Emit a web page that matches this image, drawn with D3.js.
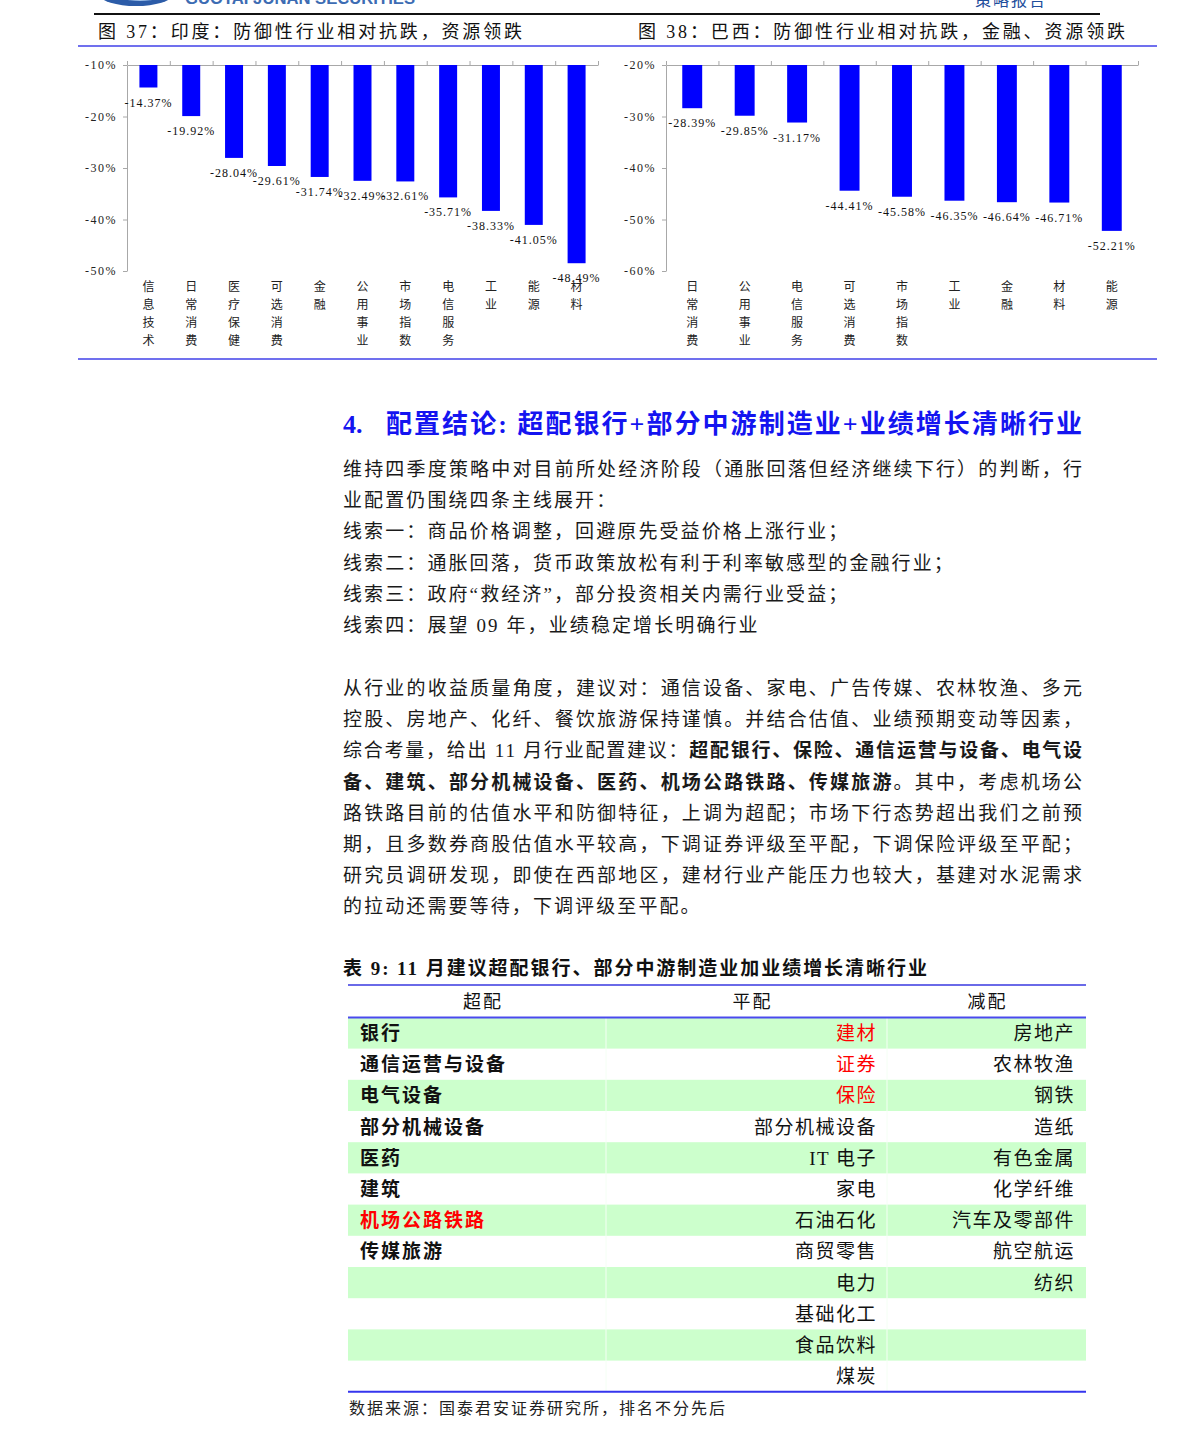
<!DOCTYPE html>
<html>
<head>
<meta charset="utf-8">
<script src="https://cdn.jsdelivr.net/npm/d3@7"></script>
<style>
  body { margin: 0; background: #fff; }
</style>
</head>
<body>
<div id="page"></div>
<script>
// India chart (图 37)
const indiaCats = ['信息技术', '日常消费', '医疗保健', '可选消费', '金融', '公用事业', '市场指数', '电信服务', '工业', '能源', '材料'];
const indiaVals = [-14.37, -19.92, -28.04, -29.61, -31.74, -32.49, -32.61, -35.71, -38.33, -41.05, -48.49];
const indiaTicks = [-10, -20, -30, -40, -50];

// Brazil chart (图 38)
const brazilCats = ['日常消费', '公用事业', '电信服务', '可选消费', '市场指数', '工业', '金融', '材料', '能源'];
const brazilVals = [-28.39, -29.85, -31.17, -44.41, -45.58, -46.35, -46.64, -46.71, -52.21];
const brazilTicks = [-20, -30, -40, -50, -60];

// table 9
const overweight = ['银行', '通信运营与设备', '电气设备', '部分机械设备', '医药', '建筑', '机场公路铁路', '传媒旅游'];
const neutral = ['建材', '证券', '保险', '部分机械设备', 'IT 电子', '家电', '石油石化', '商贸零售', '电力', '基础化工', '食品饮料', '煤炭'];
const underweight = ['房地产', '农林牧渔', '钢铁', '造纸', '有色金属', '化学纤维', '汽车及零部件', '航空航运', '纺织'];
const redItems = ['建材', '证券', '保险', '机场公路铁路'];

const FONT = '"Liberation Serif", "Noto Sans CJK SC", serif';
const CJK = '"Noto Sans CJK SC", sans-serif';

const svg = d3.select('#page').append('svg')
  .attr('width', 1190)
  .attr('height', 1439)
  .style('display', 'block');

// ---- page header (cut off at top) ----
svg.append('ellipse').attr('cx', 136).attr('cy', -5).attr('rx', 36).attr('ry', 11).attr('fill', '#2c5ca8');
svg.append('ellipse').attr('cx', 140).attr('cy', -8).attr('rx', 26).attr('ry', 9).attr('fill', '#9fc0e8');
svg.append('text').attr('x', 185).attr('y', 4).attr('font-family', 'Liberation Sans').attr('font-weight', 'bold')
  .attr('font-size', 17).attr('fill', '#3d6cb3').attr('textLength', 230).attr('lengthAdjust', 'spacingAndGlyphs')
  .text('GUOTAI JUNAN SECURITIES');
svg.append('text').attr('x', 975).attr('y', 6).attr('font-family', CJK).attr('font-size', 16)
  .attr('fill', '#1f4e9c').attr('textLength', 70).text('策略报告');
svg.append('line').attr('x1', 94).attr('x2', 1100).attr('y1', 14).attr('y2', 14).attr('stroke', '#111').attr('stroke-width', 2);

// one line of text, optionally justified with textLength
function textLine(x, y, segs, o) {
  const t = svg.append('text').attr('x', x).attr('y', y)
    .attr('font-family', o.family || FONT).attr('font-size', o.size)
    .attr('fill', o.fill || '#111').attr('text-anchor', o.anchor || 'start');
  if (o.weight) t.attr('font-weight', o.weight);
  if (o.len) t.attr('textLength', o.len).attr('lengthAdjust', 'spacing');
  else if (o.ls) t.attr('letter-spacing', o.ls);
  segs.forEach(s => {
    const sp = t.append('tspan').text(s[0]);
    if (s[1]) sp.attr('font-weight', 'bold');
  });
  return t;
}

textLine(98, 38, [['图 37：印度：防御性行业相对抗跌，资源领跌']], { size: 18, len: 424 });
textLine(638, 38, [['图 38：巴西：防御性行业相对抗跌，金融、资源领跌']], { size: 18, len: 487 });

svg.append('line').attr('x1', 78).attr('x2', 1157).attr('y1', 46).attr('y2', 46).attr('stroke', '#7070ee').attr('stroke-width', 2);
svg.append('line').attr('x1', 78).attr('x2', 1157).attr('y1', 359).attr('y2', 359).attr('stroke', '#7070ee').attr('stroke-width', 2);

// ---- bar charts ----
function barChart(cats, vals, ticks, x0, x1, pad) {
  const g = svg.append('g');
  const n = cats.length;
  const x = d3.scaleBand().domain(cats).range([x0, x1]).paddingInner(pad).paddingOuter(pad / 2);
  const y = d3.scaleLinear().domain([ticks[0], ticks[ticks.length - 1]]).range([65, 271]);
  const base = y(ticks[0]);

  const ya = g.append('g').attr('transform', `translate(${x0},0)`)
    .call(d3.axisLeft(y).tickValues(ticks).tickSize(4).tickSizeOuter(0).tickPadding(6).tickFormat(d => d + '%'));
  ya.select('.domain').attr('stroke', '#a8a8a8');
  ya.selectAll('.tick line').attr('stroke', '#a8a8a8');
  ya.selectAll('text').attr('font-family', FONT).attr('font-size', 12).attr('letter-spacing', 1.5).attr('fill', '#222');

  const xb = d3.scaleLinear().domain([0, n]).range([x0, x1]);
  const xa = g.append('g').attr('transform', `translate(0,${base})`)
    .call(d3.axisTop(xb).tickValues(d3.range(n + 1)).tickSize(4).tickSizeOuter(0).tickFormat(''));
  xa.select('.domain').attr('stroke', '#a8a8a8');
  xa.selectAll('.tick line').attr('stroke', '#a8a8a8');

  g.selectAll('rect.bar').data(vals).join('rect')
    .attr('class', 'bar')
    .attr('x', (d, i) => x(cats[i]))
    .attr('width', x.bandwidth())
    .attr('y', base)
    .attr('height', d => y(d) - base)
    .attr('fill', '#0000ff');

  g.selectAll('text.val').data(vals).join('text')
    .attr('class', 'val')
    .attr('x', (d, i) => x(cats[i]) + x.bandwidth() / 2)
    .attr('y', d => y(d) + 19)
    .attr('text-anchor', 'middle')
    .attr('font-family', FONT).attr('font-size', 12).attr('letter-spacing', 1)
    .attr('fill', '#111')
    .text(d => d.toFixed(2) + '%');

  // vertical category labels, one character per line
  cats.forEach((c, i) => {
    Array.from(c).forEach((ch, j) => {
      g.append('text')
        .attr('x', x(c) + x.bandwidth() / 2)
        .attr('y', 291 + j * 18)
        .attr('text-anchor', 'middle')
        .attr('font-family', CJK).attr('font-size', 12)
        .attr('fill', '#222')
        .text(ch);
    });
  });
}

barChart(indiaCats, indiaVals, indiaTicks, 127, 598, 0.58);
barChart(brazilCats, brazilVals, brazilTicks, 666, 1138, 0.62);

// ---- section heading and text ----
textLine(343, 433, [['4.']], { size: 26, weight: 'bold', fill: '#1414f0' });
textLine(386, 433, [['配置结论: 超配银行+部分中游制造业+业绩增长清晰行业']],
  { size: 26, weight: 'bold', fill: '#1414f0', len: 696 });

const para1 = [
  [[['维持四季度策略中对目前所处经济阶段（通胀回落但经济继续下行）的判断，行']], true],
  [[['业配置仍围绕四条主线展开：']], false],
  [[['线索一：商品价格调整，回避原先受益价格上涨行业；']], false],
  [[['线索二：通胀回落，货币政策放松有利于利率敏感型的金融行业；']], false],
  [[['线索三：政府“救经济”，部分投资相关内需行业受益；']], false],
  [[['线索四：展望 09 年，业绩稳定增长明确行业']], false]
];
const para2 = [
  [[['从行业的收益质量角度，建议对：通信设备、家电、广告传媒、农林牧渔、多元']], true],
  [[['控股、房地产、化纤、餐饮旅游保持谨慎。并结合估值、业绩预期变动等因素，']], true],
  [[['综合考量，给出 11 月行业配置建议：'], ['超配银行、保险、通信运营与设备、电气设', true]], true],
  [[['备、建筑、部分机械设备、医药、机场公路铁路、传媒旅游', true], ['。其中，考虑机场公']], true],
  [[['路铁路目前的估值水平和防御特征，上调为超配；市场下行态势超出我们之前预']], true],
  [[['期，且多数券商股估值水平较高，下调证券评级至平配，下调保险评级至平配；']], true],
  [[['研究员调研发现，即使在西部地区，建材行业产能压力也较大，基建对水泥需求']], true],
  [[['的拉动还需要等待，下调评级至平配。']], false]
];
const LH = 31.2;
para1.forEach((l, i) => textLine(343, 476 + i * LH, l[0], { size: 19, len: l[1] ? 739 : null, ls: 2.1, fill: '#1a1a1a' }));
para2.forEach((l, i) => textLine(343, 695 + i * LH, l[0], { size: 19, len: l[1] ? 739 : null, ls: 2.1, fill: '#1a1a1a' }));

// ---- table ----
textLine(343, 975, [['表 9:  11 月建议超配银行、部分中游制造业加业绩增长清晰行业']], { size: 19, weight: 'bold', len: 584 });

const T = { x0: 348, x1: 1086, c1: 606, c2: 887, top: 985, head: 1017.4, rh: 31.2 };
const nRows = Math.max(overweight.length, neutral.length, underweight.length);
const rowY = d3.scaleLinear().domain([0, nRows]).range([T.head, T.head + nRows * T.rh]);

svg.selectAll('rect.row').data(d3.range(nRows).filter(i => i % 2 === 0)).join('rect')
  .attr('class', 'row')
  .attr('x', T.x0).attr('width', T.x1 - T.x0)
  .attr('y', i => rowY(i)).attr('height', T.rh)
  .attr('fill', '#ccffcc');

[T.c1, T.c2].forEach(cx => svg.append('line').attr('x1', cx).attr('x2', cx)
  .attr('y1', T.head).attr('y2', rowY(nRows)).attr('stroke', '#f4fff4').attr('stroke-width', 1));

svg.append('line').attr('x1', T.x0).attr('x2', T.x1).attr('y1', T.top).attr('y2', T.top).attr('stroke', '#6a6ae8').attr('stroke-width', 2);
svg.append('line').attr('x1', T.x0).attr('x2', T.x1).attr('y1', T.head).attr('y2', T.head).attr('stroke', '#4a4aee').attr('stroke-width', 2);
svg.append('line').attr('x1', T.x0).attr('x2', T.x1).attr('y1', rowY(nRows)).attr('y2', rowY(nRows)).attr('stroke', '#3535ee').attr('stroke-width', 2);

[['超配', (T.x0 + T.c1) / 2 + 6], ['平配', (T.c1 + T.c2) / 2 + 6], ['减配', (T.c2 + T.x1) / 2 + 1]].forEach(h =>
  textLine(h[1], 1008, [[h[0]]], { size: 18, anchor: 'middle', ls: 2 }));

const cellY = i => rowY(i) + T.rh / 2 + 7;
overweight.forEach((d, i) => textLine(360, cellY(i), [[d]],
  { size: 19, weight: 'bold', ls: 2, fill: redItems.includes(d) ? '#ff0000' : '#111' }));
neutral.forEach((d, i) => textLine(877, cellY(i), [[d]],
  { size: 19, anchor: 'end', ls: 1.5, fill: redItems.includes(d) ? '#ff0000' : '#111' }));
underweight.forEach((d, i) => textLine(1075, cellY(i), [[d]],
  { size: 19, anchor: 'end', ls: 1.5, fill: '#111' }));

textLine(349, 1414, [['数据来源：国泰君安证券研究所，排名不分先后']], { size: 16, len: 376, fill: '#222' });
</script>
</body>
</html>
